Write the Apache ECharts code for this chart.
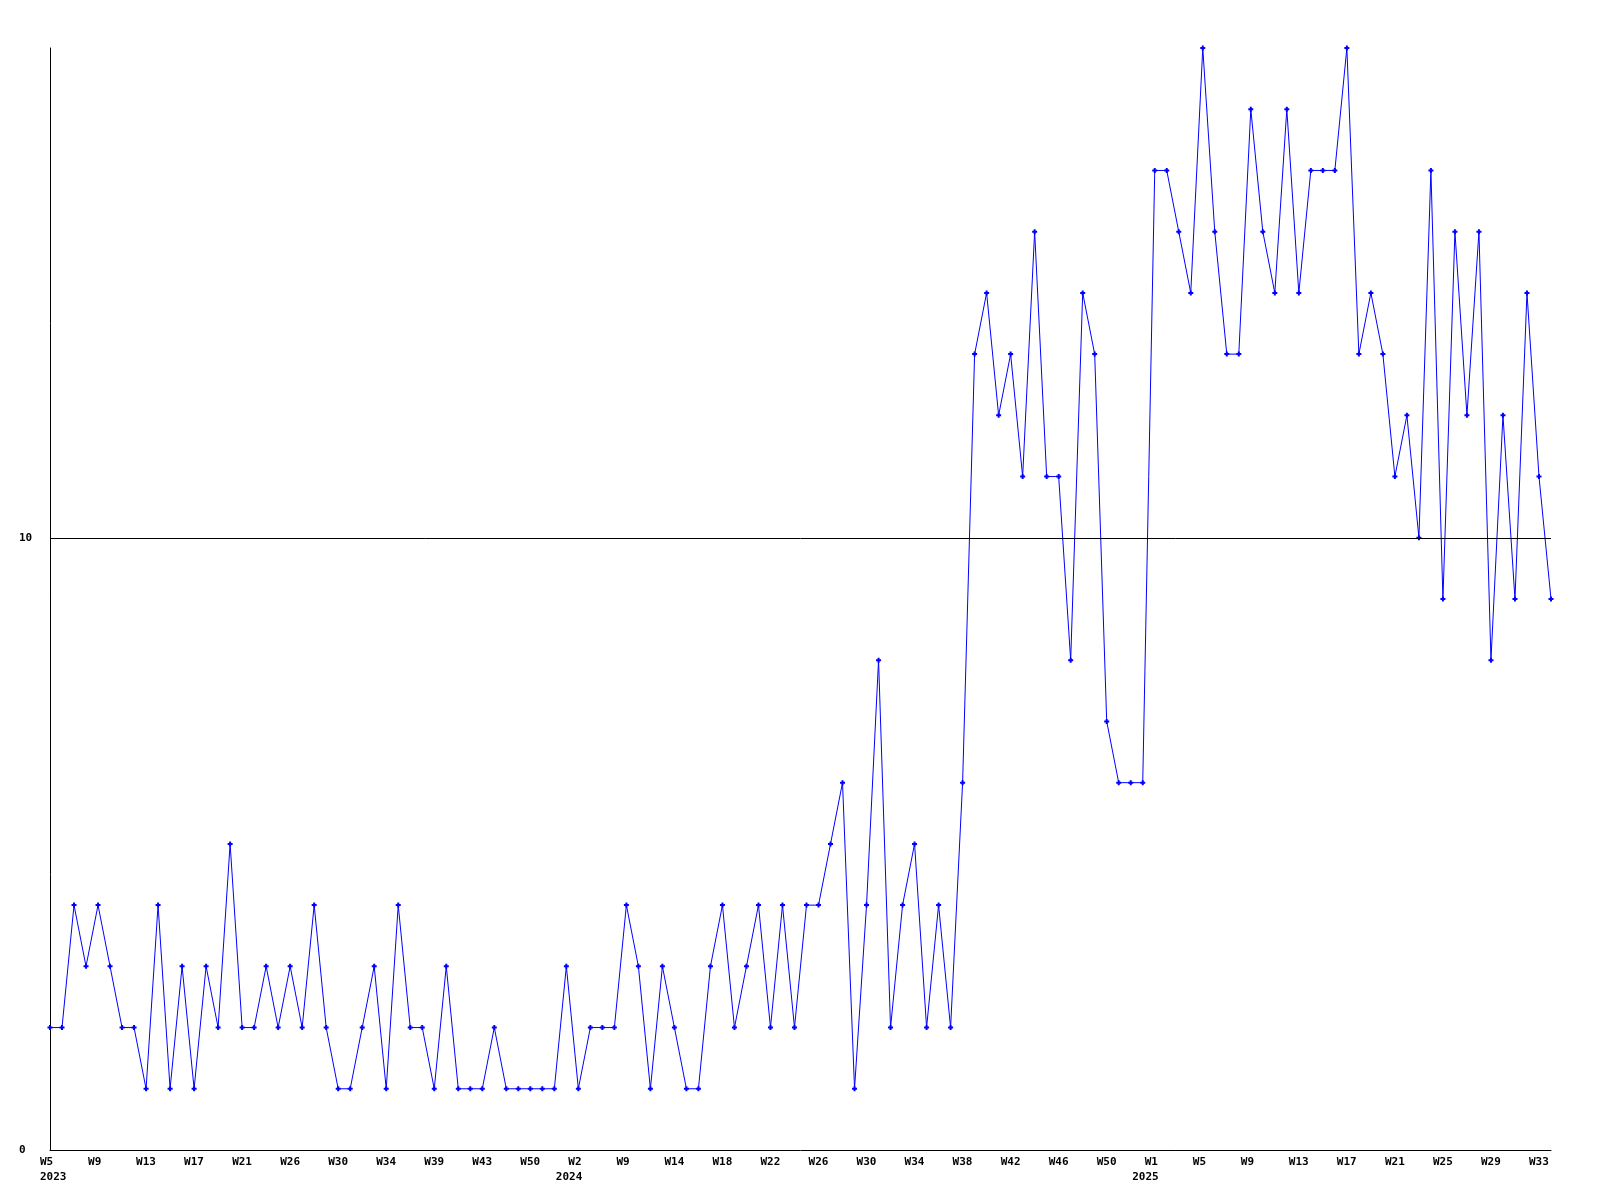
<!DOCTYPE html>
<html>
<head>
<meta charset="utf-8">
<script src="https://cdn.jsdelivr.net/npm/echarts@6/dist/echarts.min.js"></script>
<style>html,body{margin:0;padding:0;background:#fff}#c{width:1600px;height:1200px}</style>
</head>
<body>
<div id="c"></div>
<script>
const weeks = [
 'W5','W6','W7','W8','W9','W10','W11','W12','W13','W14','W15','W16','W17','W18','W19','W20',
 'W21','W22','W23','W24','W26','W27','W28','W29','W30','W31','W32','W33','W34','W35','W36','W37',
 'W39','W40','W41','W42','W43','W44','W46','W48','W50','W51','W52','W1',
 'W2','W4','W6','W8','W9','W10','W12','W13','W14','W15','W16','W17','W18','W19','W20','W21',
 'W22','W23','W24','W25','W26','W27','W28','W29','W30','W31','W32','W33','W34','W35','W36','W37',
 'W38','W39','W40','W41','W42','W43','W44','W45','W46','W47','W48','W49','W50','W51','W52','W53',
 'W1','W2','W3','W4','W5','W6','W7','W8','W9','W10','W11','W12','W13','W14','W15','W16',
 'W17','W18','W19','W20','W21','W22','W23','W24','W25','W26','W27','W28','W29','W30','W31','W32',
 'W33','W34'
];
const years = [
 ...Array(43).fill(2023),
 ...Array(49).fill(2024),
 ...Array(34).fill(2025)
];
const values = [
 2,2,4,3,4,3,2,2,1,4,1,3,1,3,2,5,
 2,2,3,2,3,2,4,2,1,1,2,3,1,4,2,2,
 1,3,1,1,1,2,1,1,1,1,1,3,1,2,2,2,
 4,3,1,3,2,1,1,3,4,2,3,4,2,4,2,4,
 4,5,6,1,4,8,2,4,5,2,4,2,6,13,14,12,
 13,11,15,11,11,8,14,13,7,6,6,6,16,16,15,14,
 18,15,13,13,17,15,14,17,14,16,16,16,18,13,14,13,
 11,12,10,16,9,15,12,15,8,12,9,14,11,9
];
const yTicks = [0, 10];

const chart = echarts.init(document.getElementById('c'));
const font = '"DejaVu Sans Mono", monospace';
const tok = {fontFamily: font, fontWeight: 'bold', fontSize: 11, color: '#000', lineHeight: 15, align: 'left'};
chart.setOption({
  animation: false,
  backgroundColor: '#ffffff',
  grid: {left: 50, right: 49, top: 48, bottom: 50, containLabel: false},
  xAxis: {
    type: 'category',
    data: weeks,
    boundaryGap: false,
    axisLine: {show: true, lineStyle: {color: '#000', width: 1}},
    axisTick: {show: false},
    splitLine: {show: false},
    axisLabel: {
      interval: 3,
      margin: 5,
      align: 'center',
      color: '#000',
      fontFamily: font,
      fontWeight: 'bold',
      fontSize: 11,
      lineHeight: 15,
      formatter: function (v, i) {
        if (i === 0) return '{w|' + v + '}\n{w|' + years[i] + '}';
        if (years[i] !== years[i - 4]) return '{s| }{w|' + v + '}\n{y|' + years[i] + '}';
        return '{w|' + v + '}';
      },
      rich: {
        w: Object.assign({width: 20}, tok),
        s: Object.assign({width: 12.5}, tok),
        y: Object.assign({width: 45}, tok)
      }
    }
  },
  yAxis: {
    type: 'value',
    min: 0,
    max: 18,
    interval: 10,
    axisLine: {show: true, lineStyle: {color: '#000', width: 1}},
    axisTick: {show: false},
    splitLine: {show: false},
    axisLabel: {
      margin: 31,
      align: 'left',
      color: '#000',
      fontFamily: font,
      fontWeight: 'bold',
      fontSize: 11,
      formatter: function (v) { return yTicks.indexOf(v) >= 0 ? String(v) : ''; }
    }
  },
  series: [{
    type: 'line',
    data: values,
    symbol: 'path://M1.5 0H3.5V1.5H5V3.5H3.5V5H1.5V3.5H0V1.5H1.5Z',
    symbolSize: 5,
    showAllSymbol: true,
    lineStyle: {color: '#0000ff', width: 1},
    itemStyle: {color: '#0000ff'},
    markLine: {
      silent: true,
      symbol: 'none',
      label: {show: false},
      lineStyle: {color: '#000', width: 1, type: 'solid'},
      data: [{yAxis: yTicks[1]}]
    }
  }]
});
</script>
</body>
</html>
